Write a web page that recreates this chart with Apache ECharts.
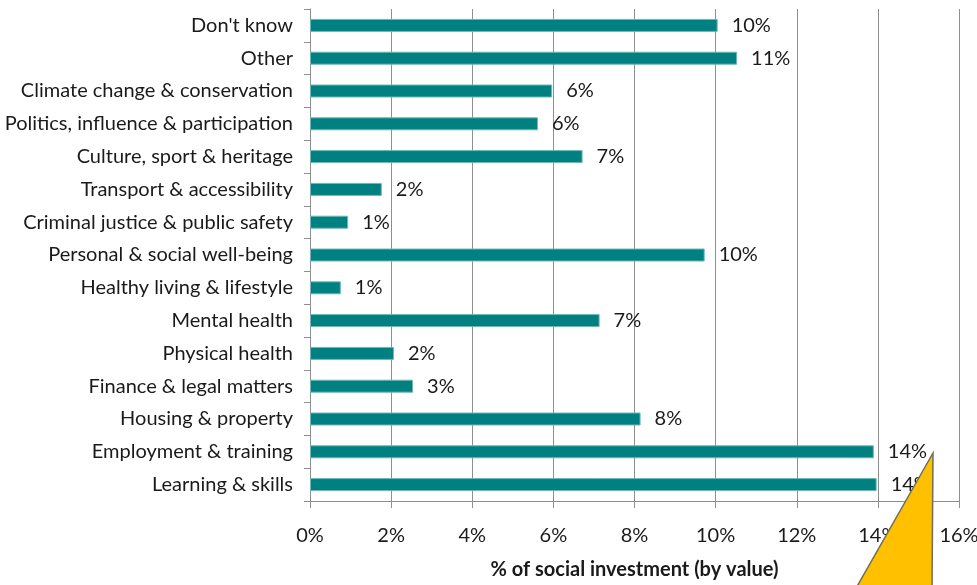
<!DOCTYPE html>
<html>
<head>
<meta charset="utf-8">
<script src="https://cdn.jsdelivr.net/npm/echarts@6/dist/echarts.min.js"></script>
<style>
  html, body { margin: 0; padding: 0; background: #ffffff; overflow: hidden; }
  #chart { width: 977px; height: 585px; }
</style>
</head>
<body>
<div id="chart"></div>
<script>
// Categories listed bottom to top (category axis starts at the bottom)
const categories = [
  'Learning & skills',
  'Employment & training',
  'Housing & property',
  'Finance & legal matters',
  'Physical health',
  'Mental health',
  'Healthy living & lifestyle',
  'Personal & social well-being',
  'Criminal justice & public safety',
  'Transport & accessibility',
  'Culture, sport & heritage',
  'Politics, influence & participation',
  'Climate change & conservation',
  'Other',
  "Don't know"
];

// Share of social investment by value, in percent
const shareValues = [13.97, 13.9, 8.15, 2.54, 2.07, 7.14, 0.76, 9.73, 0.94, 1.77, 6.72, 5.62, 5.97, 10.53, 10.05];

// Value axis ticks
const axisMin = 0;
const axisMax = 16;
const axisStep = 2;

const FONT = 'Lato, "Open Sans", sans-serif';
const TEXT = '#1a1a1a';
const GRID_LINE = '#8f8f8f';

const chart = echarts.init(document.getElementById('chart'), null, { renderer: 'canvas' });

chart.setOption({
  animation: false,
  backgroundColor: '#ffffff',
  textStyle: { fontFamily: FONT },
  grid: {
    left: 310, right: 18, top: 9, bottom: 84,
    containLabel: false,
    outerBoundsMode: 'none'
  },
  xAxis: {
    type: 'value',
    min: axisMin,
    max: axisMax,
    interval: axisStep,
    name: '% of social investment (by value)',
    nameLocation: 'middle',
    nameGap: 59,
    nameTextStyle: { fontFamily: FONT, fontSize: 20, fontWeight: 'bold', color: TEXT },
    axisLine: { show: true, lineStyle: { color: GRID_LINE, width: 1 } },
    axisTick: { show: true, length: 7, lineStyle: { color: GRID_LINE } },
    axisLabel: {
      formatter: '{value}%',
      fontFamily: FONT,
      fontSize: 20,
      color: TEXT,
      margin: 25
    },
    splitLine: { show: true, lineStyle: { color: GRID_LINE, width: 1 } }
  },
  yAxis: {
    type: 'category',
    data: categories,
    axisLine: { show: true, lineStyle: { color: GRID_LINE, width: 1 } },
    axisTick: { show: true, length: 6, lineStyle: { color: GRID_LINE } },
    axisLabel: { fontFamily: FONT, fontSize: 20, color: TEXT, margin: 17 },
    splitLine: { show: false }
  },
  series: [{
    type: 'bar',
    data: shareValues,
    barWidth: 13,
    itemStyle: { color: '#008080', borderColor: '#6fb7b7', borderWidth: 1 },
    label: {
      show: true,
      position: 'right',
      distance: 14,
      formatter: p => Math.round(p.value) + '%',
      fontFamily: FONT,
      fontSize: 20,
      color: TEXT
    }
  }],
  graphic: [{
    type: 'polygon',
    z: 100,
    shape: { points: [[933, 453], [855, 590], [932, 590]] },
    style: { fill: '#ffc000', stroke: '#6e6e5a', lineWidth: 1.5 }
  }]
});
</script>
</body>
</html>
